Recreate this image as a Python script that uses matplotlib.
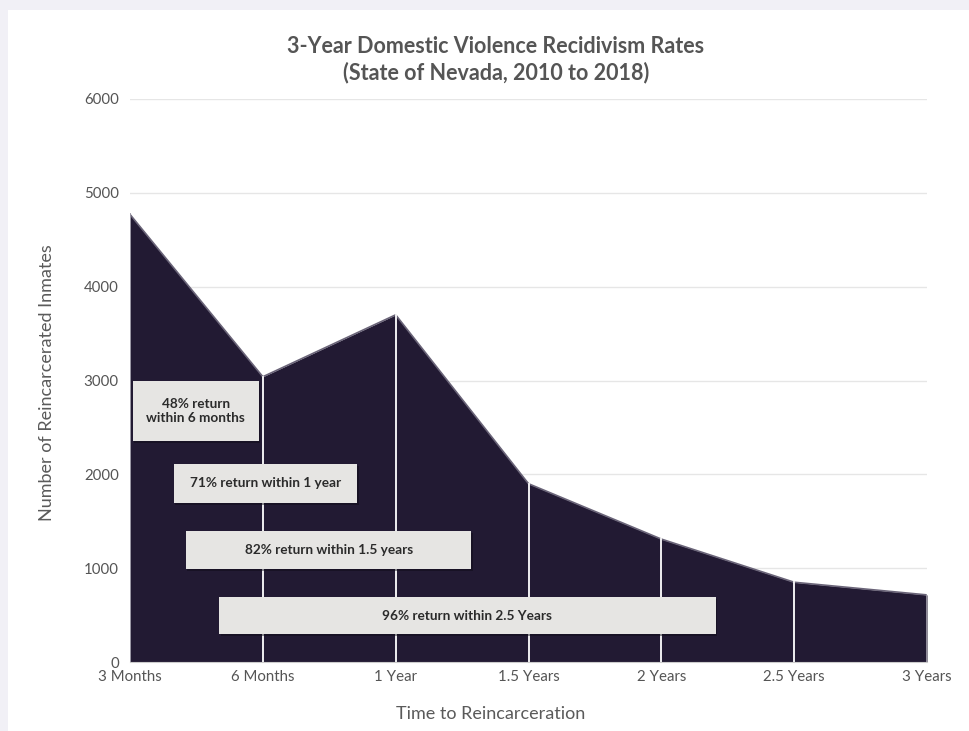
import matplotlib.pyplot as plt
from matplotlib.patches import Rectangle
import numpy as np

categories = ["3 Months", "6 Months", "1 Year", "1.5 Years", "2 Years", "2.5 Years", "3 Years"]
inmates = [4770, 3040, 3700, 1900, 1310, 850, 715]
yticks = [0, 1000, 2000, 3000, 4000, 5000, 6000]
notes = ["48% return\nwithin 6 months",
         "71% return within 1 year",
         "82% return within 1.5 years",
         "96% return within 2.5 Years"]

# note boxes: (x0, x1, y0, y1) in data units
boxes = [(0.02, 0.97, 2355, 2995),
         (0.33, 1.71, 1695, 2110),
         (0.42, 2.57, 991, 1396),
         (0.67, 4.41, 298, 693)]

plt.rcParams['font.family'] = ['Lato', 'DejaVu Sans']

fill = '#221a33'
fig = plt.figure(figsize=(9.69, 7.31), dpi=100, facecolor='#f1f0f6')
fig.patches.append(Rectangle((8/969, 0), 1, 1 - 10/731, transform=fig.transFigure,
                             facecolor='white', edgecolor='none', zorder=-5))

ax = fig.add_axes([130/969, 69/731, 797/969, 563/731])
ax.set_facecolor('none')
x = np.arange(len(categories))

ax.fill_between(x, inmates, 0, color=fill, lw=0, zorder=2)
ax.plot(x, inmates, color='#6a6478', lw=1.2, zorder=3)
for i, v in zip(x, inmates):
    c = '#9c99a6' if i in (0, len(x) - 1) else 'white'
    ax.plot([i, i], [0, v], color=c, lw=1.3, zorder=3)

for (x0, x1, y0, y1), t in zip(boxes, notes):
    ax.add_patch(Rectangle((x0 + 0.012, y0 - 20), x1 - x0, y1 - y0,
                           facecolor='#0d0a14', alpha=0.45, lw=0, zorder=4))
    ax.add_patch(Rectangle((x0, y0), x1 - x0, y1 - y0,
                           facecolor='#e6e5e3', lw=0, zorder=5))
    ax.text((x0 + x1) / 2, (y0 + y1) / 2, t, ha='center', va='center',
            fontsize=9.8, fontweight='bold', color='#2b2b2b',
            linespacing=1.25, zorder=6)

ax.set_xlim(0, len(x) - 1)
ax.set_ylim(0, 6000)
ax.set_yticks(yticks)
ax.set_xticks(x)
ax.set_xticklabels(categories)
ax.tick_params(length=0, labelsize=10.8, labelcolor='#555555', pad=8)
ax.tick_params(axis='x', pad=6)
ax.grid(axis='y', color='#e6e6e6', lw=1, zorder=1)
for s in ['top', 'right', 'left']:
    ax.spines[s].set_visible(False)
ax.spines['bottom'].set_color('#cccccc')
ax.spines['bottom'].set_zorder(4)

ax.set_xlabel('Time to Reincarceration', fontsize=13, color='#5a5a5a')
ax.xaxis.set_label_coords(0.452, -0.078)
ax.set_ylabel('Number of Reincarcerated Inmates', fontsize=13, color='#5a5a5a')
ax.yaxis.set_label_coords(-0.094, 0.496)
ax.set_title('3-Year Domestic Violence Recidivism Rates\n(State of Nevada, 2010 to 2018)',
             x=0.459, fontsize=15.5, fontweight='bold', color='#555555', pad=14, linespacing=1.25)

plt.savefig('out.png', dpi=100, facecolor=fig.get_facecolor())
